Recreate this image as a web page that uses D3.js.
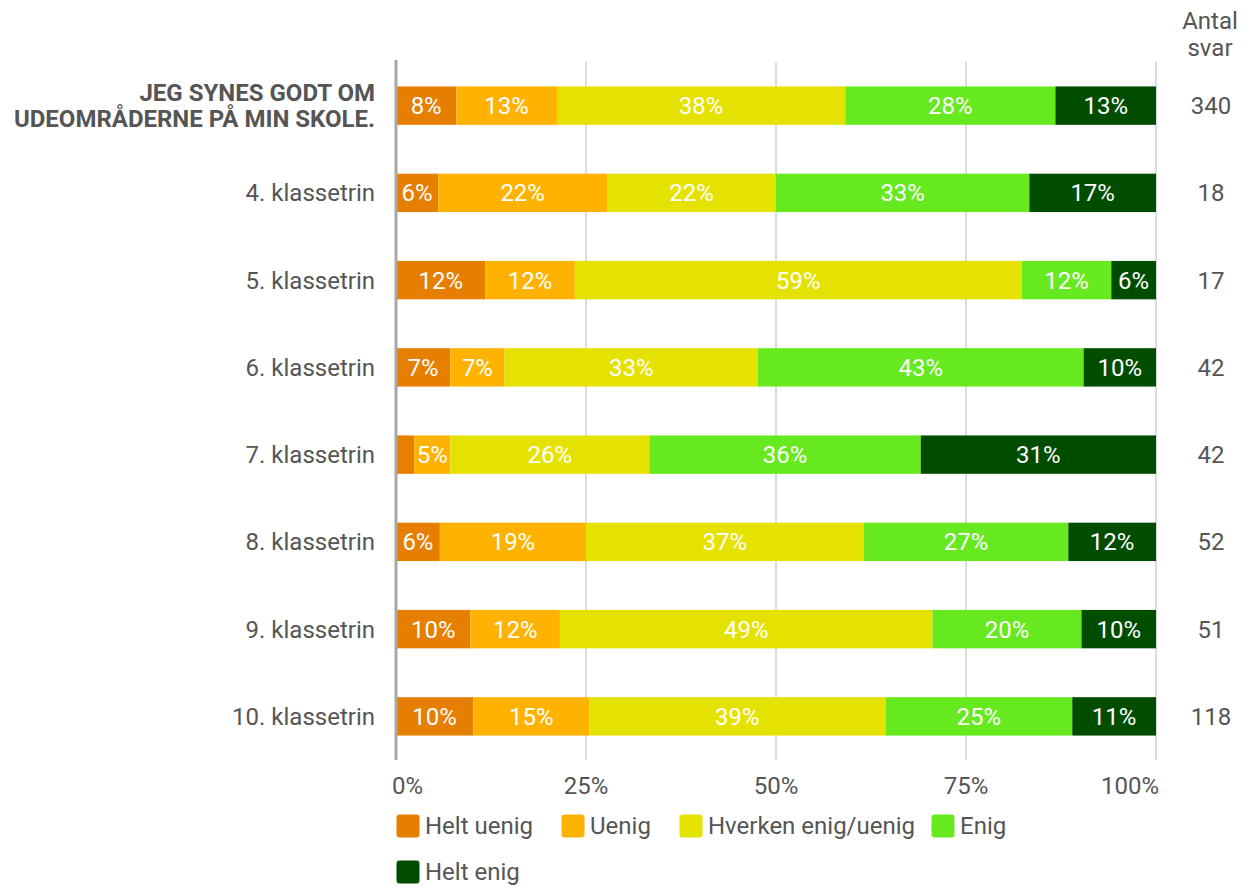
<!DOCTYPE html>
<html>
<head>
<meta charset="utf-8">
<script src="https://cdn.jsdelivr.net/npm/d3@7"></script>
<style>
  body { margin: 0; background: #fff; }
  svg { display: block; font-family: Roboto, "Noto Sans", sans-serif; }
</style>
</head>
<body>
<svg id="chart"></svg>
<script>
// Chart size
const width = 1251;
const height = 888;
const fontSize = 24;

// Rows (first one is the question itself, shown in bold)
const categories = [
  "JEG SYNES GODT OM|UDEOMRÅDERNE PÅ MIN SKOLE.",
  "4. klassetrin",
  "5. klassetrin",
  "6. klassetrin",
  "7. klassetrin",
  "8. klassetrin",
  "9. klassetrin",
  "10. klassetrin"
];

// Answer options and their colours
const seriesNames = ["Helt uenig", "Uenig", "Hverken enig/uenig", "Enig", "Helt enig"];
const seriesColors = ["#e67e00", "#ffb300", "#e6e200", "#66ea1f", "#004d00"];

// Number of answers per option, one entry per row
const heltUenig = [27, 1, 2, 3, 1, 3, 5, 12];
const uenig     = [45, 4, 2, 3, 2, 10, 6, 18];
const hverken   = [129, 4, 10, 14, 11, 19, 25, 46];
const enig      = [94, 6, 2, 18, 15, 14, 10, 29];
const heltEnig  = [45, 3, 1, 4, 13, 6, 5, 13];

const tickValues = [0, 0.25, 0.5, 0.75, 1];

const seriesValues = [heltUenig, uenig, hverken, enig, heltEnig];

// Build table for the stack layout
const rows = categories.map((c, i) => {
  const row = { name: c };
  seriesNames.forEach((s, j) => { row[s] = seriesValues[j][i]; });
  row.total = d3.sum(seriesValues, v => v[i]);
  return row;
});

const svg = d3.select("#chart")
  .attr("width", width)
  .attr("height", height);

const x = d3.scaleLinear().domain([0, 1]).range([396, 1156]);
const y = d3.scaleBand()
  .domain(categories)
  .range([62, 760])
  .paddingInner(0.56)
  .paddingOuter(0.28);

const stack = d3.stack()
  .keys(seriesNames)
  .offset(d3.stackOffsetExpand);
const stacked = stack(rows);

// Gridlines
svg.append("g")
  .selectAll("line")
  .data(tickValues.slice(1))
  .join("line")
  .attr("x1", d => x(d)).attr("x2", d => x(d))
  .attr("y1", 62).attr("y2", 760)
  .attr("stroke", "#b7b7b7")
  .attr("stroke-width", 1);

// Bars
const groups = svg.append("g")
  .selectAll("g")
  .data(stacked)
  .join("g")
  .attr("fill", (d, i) => seriesColors[i]);

groups.selectAll("rect")
  .data(d => d)
  .join("rect")
  .attr("x", d => x(d[0]))
  .attr("width", d => x(d[1]) - x(d[0]))
  .attr("y", d => y(d.data.name))
  .attr("height", y.bandwidth());

// Percentage labels inside the segments
groups.selectAll("text")
  .data(d => d.filter(s => x(s[1]) - x(s[0]) > 30))
  .join("text")
  .attr("x", d => (x(d[0]) + x(d[1])) / 2)
  .attr("y", d => y(d.data.name) + y.bandwidth() / 2)
  .attr("dy", "0.35em")
  .attr("text-anchor", "middle")
  .attr("fill", "#fff")
  .attr("font-size", fontSize)
  .text(d => Math.round((d[1] - d[0]) * 100) + "%");

// Zero axis line
svg.append("line")
  .attr("x1", x(0)).attr("x2", x(0))
  .attr("y1", 60).attr("y2", 760)
  .attr("stroke", "#a8a8a8")
  .attr("stroke-width", 3);

// Bottom tick labels (end labels kept inside the plot edges)
svg.append("g")
  .selectAll("text")
  .data(tickValues)
  .join("text")
  .attr("x", (d, i) => i === 0 ? x(d) - 4 : i === tickValues.length - 1 ? x(d) + 3 : x(d))
  .attr("y", 786)
  .attr("dy", "0.35em")
  .attr("text-anchor", (d, i) => i === 0 ? "start" : i === tickValues.length - 1 ? "end" : "middle")
  .attr("fill", "#555")
  .attr("font-size", fontSize)
  .text(d => d3.format(".0%")(d));

// Row labels
const labels = svg.append("g")
  .selectAll("text")
  .data(categories)
  .join("text")
  .attr("fill", "#555")
  .attr("font-size", fontSize)
  .attr("text-anchor", "end")
  .attr("font-weight", (d, i) => i === 0 ? "bold" : "normal");

labels.each(function(d) {
  const parts = d.split("|");
  const cy = y(d) + y.bandwidth() / 2;
  const lineH = 26;
  d3.select(this).selectAll("tspan")
    .data(parts)
    .join("tspan")
    .attr("x", 375)
    .attr("y", (p, k) => cy + (k - (parts.length - 1) / 2) * lineH)
    .attr("dy", "0.35em")
    .text(p => p);
});

// Totals column
svg.append("g")
  .selectAll("text")
  .data(["Antal", "svar"])
  .join("text")
  .attr("x", 1210)
  .attr("y", (d, i) => 21 + i * 27)
  .attr("dy", "0.35em")
  .attr("text-anchor", "middle")
  .attr("fill", "#555")
  .attr("font-size", fontSize)
  .text(d => d);

svg.append("g")
  .selectAll("text")
  .data(rows)
  .join("text")
  .attr("x", 1211)
  .attr("y", d => y(d.name) + y.bandwidth() / 2)
  .attr("dy", "0.35em")
  .attr("text-anchor", "middle")
  .attr("fill", "#555")
  .attr("font-size", fontSize)
  .text(d => d.total);

// Legend
const legendPos = [[396, 826], [561, 826], [679, 826], [931, 826], [396, 872]];
const legend = svg.append("g")
  .selectAll("g")
  .data(seriesNames)
  .join("g")
  .attr("transform", (d, i) => `translate(${legendPos[i][0]},${legendPos[i][1]})`);

legend.append("rect")
  .attr("x", 0.5).attr("y", -11.5)
  .attr("width", 23).attr("height", 23)
  .attr("rx", 3)
  .attr("fill", (d, i) => seriesColors[i]);

legend.append("text")
  .attr("x", 29)
  .attr("y", 0)
  .attr("dy", "0.35em")
  .attr("fill", "#555")
  .attr("font-size", fontSize)
  .text(d => d);
</script>
</body>
</html>
